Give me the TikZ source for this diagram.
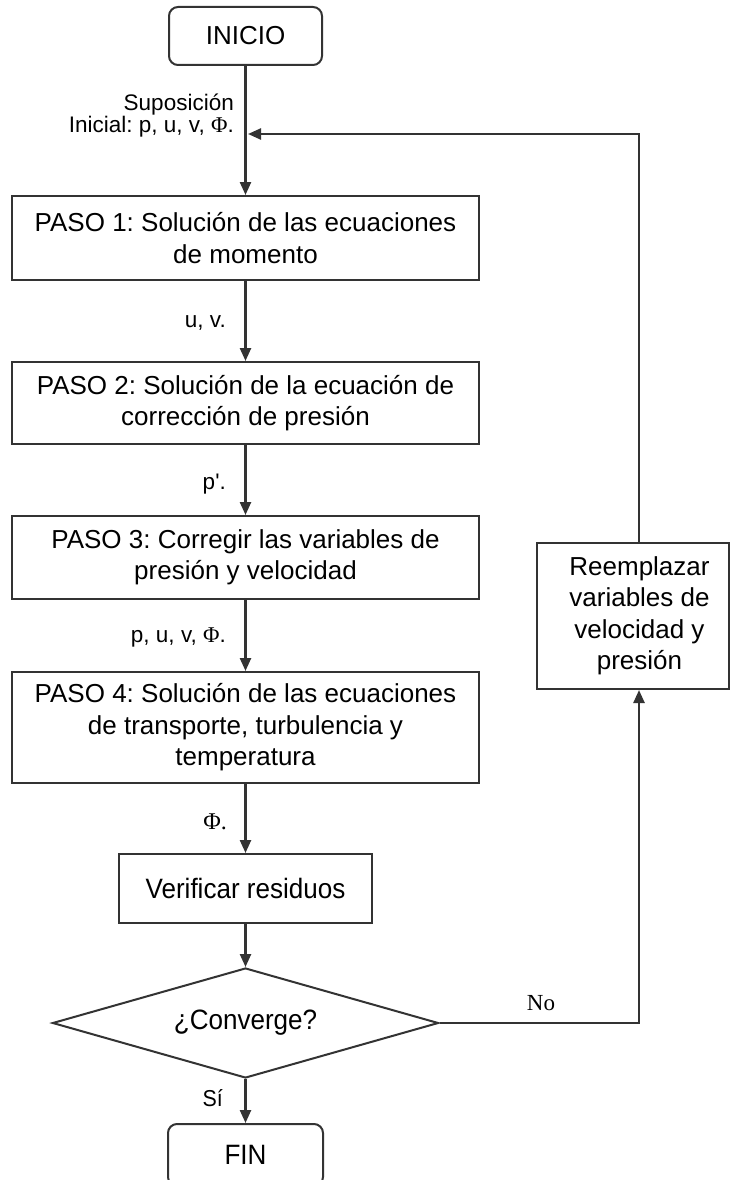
\documentclass[tikz,border=0pt]{standalone}
\usepackage{fontspec}
\setmainfont{Liberation Sans}
\newfontfamily\lblfont{Liberation Sans}
\newfontfamily\serifphi{Liberation Serif}
\newfontfamily\narrowsans{Liberation Sans}[FakeStretch=0.93]
\usetikzlibrary{arrows.meta,shapes.geometric}
\definecolor{linec}{HTML}{333333}
\newcommand{\Phisym}{{\serifphi Φ}}
\frenchspacing
\begin{document}
\begin{tikzpicture}[x=1pt,y=-1pt,
  conn/.style={draw=linec,line width=2.4pt,-{Triangle[length=13pt,width=11pt]}},
  stepbox/.style={draw=linec,line width=2pt,rectangle,inner sep=0pt,minimum width=467pt,align=center,font=\fontsize{26}{31.5}\selectfont},
  term/.style={draw=linec,line width=2pt,rounded corners=9pt,inner sep=0pt,minimum width=153pt,minimum height=58pt},
  lbl/.style={anchor=east,inner sep=0pt,align=right,font=\lblfont\fontsize{22.5}{20.5}\selectfont},
]
\useasboundingbox (0,0) rectangle (730,1180);
\node[term,font=\fontsize{26}{31}\selectfont] (ini) at (245.5,36) {INICIO};
\node[stepbox,minimum height=84pt] (p1) at (245.5,238) {PASO 1: Solución de las ecuaciones\\de momento};
\node[stepbox,minimum height=82pt] (p2) at (245.5,403) {PASO 2: Solución de la ecuación de\\corrección de presión};
\node[stepbox,minimum height=83pt] (p3) at (245.5,557.5) {PASO 3: Corregir las variables de\\presión y velocidad};
\node[stepbox,minimum height=111pt] (p4) at (245.5,727.5) {PASO 4: Solución de las ecuaciones\\de transporte, turbulencia y\\temperatura};
\node[stepbox,minimum width=253pt,minimum height=69pt,font=\narrowsans\fontsize{28}{31}\selectfont] (ver) at (245.5,888.5) {Verificar residuos};
\node[diamond,draw=linec,line width=2pt,inner sep=0pt,aspect=3.5,minimum width=386pt,minimum height=110pt,font=\narrowsans\fontsize{28}{31}\selectfont] (conv) at (245.5,1023) {¿Converge?};
\node[term,minimum width=155pt,minimum height=62pt,font=\narrowsans\fontsize{28}{31}\selectfont] (fin) at (245.5,1155) {FIN};
\node[draw=linec,line width=2pt,inner sep=0pt,minimum width=192pt,minimum height=146pt,font=\fontsize{26}{31.5}\selectfont] (ree) at (633,616) {\hspace*{13pt}\begin{tabular}{@{}c@{}}Reemplazar\\variables de\\velocidad y\\presión\end{tabular}};
\coordinate (rx) at (639,0);
\coordinate (join) at (248,134);
\draw[conn] (ini.south) -- (p1.north);
\draw[conn] (p1.south) -- (p2.north);
\draw[conn] (p2.south) -- (p3.north);
\draw[conn] (p3.south) -- (p4.north);
\draw[conn] (p4.south) -- (ver.north);
\draw[conn] (ver.south) -- (conv.north);
\draw[conn] (conv.south) -- (fin.north);
\draw[conn] (conv.east) -| (ree.south -| rx);
\draw[conn] (ree.north -| rx) |- (join);
\node[lbl] (l0) at (234,116) {Suposición\\Inicial: p, u, v, \Phisym.};
\node[lbl] (l1) at (226,323) {u, v.};
\node[lbl] (l2) at (226,484) {p'.};
\node[lbl] (l3) at (226,637) {p, u, v, \Phisym.};
\node[lbl,font=\serifphi\fontsize{24}{24}\selectfont] (l4) at (227,822) {Φ.};
\node[lbl,font=\narrowsans\fontsize{23}{23}\selectfont] (l5) at (223,1098) {Sí};
\node[inner sep=0pt,font=\serifphi\fontsize{23}{23}\selectfont] (l6) at (541,1003) {No};
\end{tikzpicture}
\end{document}
